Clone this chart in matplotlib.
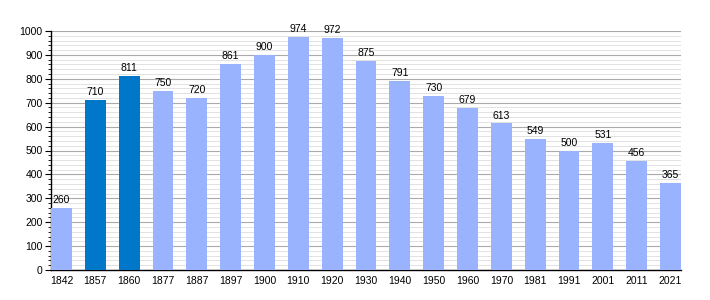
import matplotlib
matplotlib.use("Agg")
import matplotlib.pyplot as plt
from matplotlib.ticker import MultipleLocator

plt.rcParams["font.family"] = ["Liberation Sans", "DejaVu Sans"]

anios = ["1842", "1857", "1860", "1877", "1887", "1897", "1900", "1910", "1920", "1930",
         "1940", "1950", "1960", "1970", "1981", "1991", "2001", "2011", "2021"]
poblacion = [260, 710, 811, 750, 720, 861, 900, 974, 972, 875,
             791, 730, 679, 613, 549, 500, 531, 456, 365]
destacados = ["1857", "1860"]

color_normal = "#99b3ff"
color_destacado = "#0077c8"

fig = plt.figure(figsize=(7.1, 3.0), dpi=100)
ax = fig.add_axes([51 / 710, 30 / 300, 630 / 710, 239 / 300])

ancho = 0.62
posiciones = list(range(len(anios)))
colores = [color_destacado if a in destacados else color_normal for a in anios]
barras = ax.bar(posiciones, poblacion, width=ancho, color=colores, zorder=3)

for x, v in zip(posiciones, poblacion):
    ax.text(x, v + 12, str(v), ha="center", va="bottom", fontsize=7.5, zorder=4)

ax.set_xlim(-ancho / 2, len(anios) - 1 + ancho / 2)
ax.set_ylim(0, 1000)
ax.set_xticks(posiciones)
ax.set_xticklabels(anios, fontsize=7.5)
ax.tick_params(axis="x", length=0, pad=4)

ax.yaxis.set_major_locator(MultipleLocator(100))
ax.yaxis.set_minor_locator(MultipleLocator(20))
ax.tick_params(axis="y", which="major", length=4, labelsize=7.5, pad=2)
ax.tick_params(axis="y", which="minor", length=2)
ax.grid(axis="y", which="major", color="#aaaaaa", linewidth=0.8, zorder=0)
ax.grid(axis="y", which="minor", color="#dddddd", linewidth=0.6, zorder=0)

for lado in ["top", "right"]:
    ax.spines[lado].set_visible(False)
ax.spines["left"].set_linewidth(1)
ax.spines["bottom"].set_linewidth(1)

fig.savefig("out.png", dpi=100)
